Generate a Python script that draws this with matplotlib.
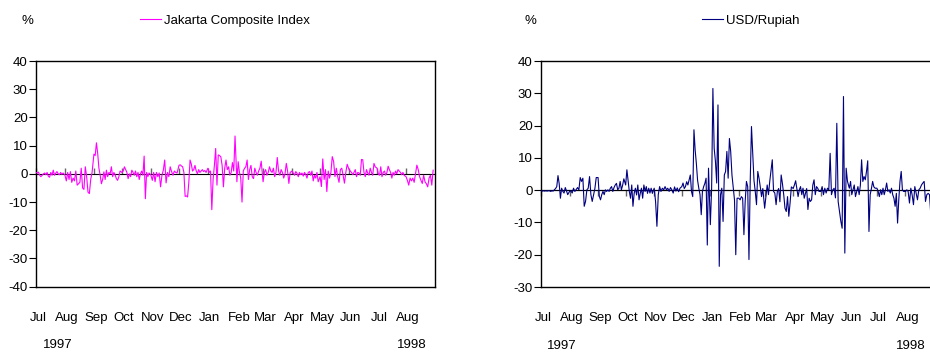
import numpy as np
import pandas as pd
import matplotlib
matplotlib.use("Agg")
import matplotlib.pyplot as plt
import matplotlib.dates as mdates

plt.rcParams["font.family"] = ["Liberation Sans", "DejaVu Sans"]
plt.rcParams["axes.unicode_minus"] = False

# --- months covered (daily % changes, Jul 1997 - Aug 1998) ---
months = ["1997-07", "1997-08", "1997-09", "1997-10", "1997-11", "1997-12", "1998-01",
          "1998-02", "1998-03", "1998-04", "1998-05", "1998-06", "1998-07", "1998-08"]
month_labels = ["Jul", "Aug", "Sep", "Oct", "Nov", "Dec", "Jan",
                "Feb", "Mar", "Apr", "May", "Jun", "Jul", "Aug"]
year_labels = ["1997", "1998"]
year_dates = ["1997-07-24", "1998-08-07"]

# --- Jakarta Composite Index, daily % change ---
jci_jul97 = [0.5, 0.3, 0.6, -0.5, -1.0, -0.5, 0.0, 0.3, -0.3, 0.5, -0.8, -1.2,
             0.5, -0.5, 1.3, -0.5, 0.2, 0.8, 0.0, -0.3, 0.5, -0.2, 0.3]
jci_aug97 = [-0.5, -2.5, 0.5, -2.0, 0.8, -3.0, -1.5, -2.5, 1.0, -4.0, -3.5,
             -3.0, 2.0, -5.0, -5.5, 2.5, -1.0, -6.5, -7.0, -2.0, 0.5]
jci_sep97 = [7.0, 6.5, 11.0, 7.3, 2.0, -0.5, -3.5, -2.0, 0.7, -2.0, 1.3,
             -1.0, 0.5, 0.0, 2.5, -1.0, 0.5, -0.3, -1.7, -2.3, -1.0, 1.0]
jci_oct97 = [0.5, 1.0, 2.5, 1.5, 0.5, -1.7, 0.0, -1.0, 1.3, 0.5, -0.5, 1.0,
             -1.0, 0.5, -2.0, 0.0, 1.0, -0.5, 6.3, -8.8, 0.5, -1.0, 0.3]
jci_nov97 = [-0.5, -2.3, 0.5, -2.8, 0.5, -1.0, 0.3, -4.6, -0.5, 1.3,
             4.9, -3.2, 0.5, -1.0, 2.5, 0.8, -0.5, 1.0, 0.5, 0.3]
jci_dec97 = [3.0, 3.2, 2.8, 2.5, 0.5, -8.0, -7.8, -8.2, -3.0, 4.9, 3.5, 1.0,
             1.5, 3.0, 1.0, 0.0, 1.5, 0.5, 1.0, 1.5, 0.8, 1.2, 0.5]
jci_jan98 = [2.0, 0.5, 1.0, -12.7, -2.0, 3.0, 9.0, -4.0, 6.7, 6.5, 6.0,
             3.0, -4.6, 2.0, 4.9, 1.5, 2.5, -0.5, 0.5, 4.0, 1.0, 13.4]
jci_feb98 = [-2.8, 4.3, 0.5, -1.5, -10.0, 1.0, 2.0, 2.5, 4.9, -2.0,
             1.5, 3.0, -1.0, -1.7, 2.0, 0.5, -0.5, 1.0, 2.0, 4.5]
jci_mar98 = [-2.8, 0.5, 1.5, -0.5, 0.5, 2.5, 1.0, 0.5, 2.0, -1.0, 0.5,
             5.8, 1.0, -0.5, 1.5, 0.5, -1.5, 0.0, 3.7, 1.0, -3.4, 0.5]
jci_apr98 = [1.0, 0.3, -0.5, 0.8, 0.2, -1.0, 0.5, -0.3, 0.3, -0.8, 0.5,
             -0.2, -1.5, 0.5, 0.8, -0.5, 1.0, -2.5, -0.5, -1.5, 0.5, -2.8]
jci_may98 = [-1.0, -4.5, 5.3, -2.0, 1.5, -6.3, 1.0, -1.5, 0.5, 6.1, 4.4,
             -1.0, 2.0, -1.0, -3.0, 1.5, 2.0, -0.5, -3.3, 0.5, 3.4]
jci_jun98 = [1.5, 1.0, 0.5, -0.3, 0.5, 1.5, -1.0, 0.5, 0.3, -0.5, 5.1,
             5.0, 0.5, -1.0, 1.5, 0.3, -0.5, 2.0, 0.5, -0.5, 3.7, 2.5]
jci_jul98 = [2.0, 0.0, -0.5, 2.5, -1.0, 0.5, 1.0, -0.5, 0.5, 2.7, 1.5, 0.5,
             -1.5, 0.5, -0.5, 1.0, 0.0, 1.5, 1.0, 0.5, -0.3, 0.5, -0.5]
jci_aug98 = [-1.0, -2.3, -4.0, -1.5, -2.5, -1.5, -3.0, 0.0, 3.1, 1.5, -1.0,
             -2.3, -3.4, -0.5, -2.8, -3.5, -4.6, -1.5, -0.5, -4.0, 1.3]

# --- USD/Rupiah, daily % change ---
rp_jul97 = [-0.3, -0.3, -0.2, -0.3, -0.2, -0.3, -0.2, -0.2, -0.4, -0.2, -0.3, 0.1,
            0.5, 1.1, 4.5, 2.0, -2.5, 0.6, -0.4, -0.9, 0.8, -0.2, -1.4]
rp_aug97 = [-0.4, -0.2, -0.9, 0.6, -0.4, 0.2, 0.8, 0.1, 3.9, 2.7, 3.7,
            -5.0, -3.5, 0.1, 0.6, 4.2, -1.4, -3.5, -1.5, 0.5, 3.9]
rp_sep97 = [3.9, -1.9, -3.0, -1.4, -0.4, -1.4, 0.1, -0.4, 0.1, -0.4, 0.6,
            1.1, -0.4, 0.8, 1.6, 2.1, 0.1, 0.6, 2.7, 0.1, 1.5, 3.5]
rp_oct97 = [1.6, 6.3, 3.0, -0.4, -2.5, 1.6, -5.0, -1.0, 0.6, -1.5, 1.6, -3.0,
            -1.0, 0.6, -2.5, 1.6, -0.4, 1.1, -1.0, 0.6, -0.9, 0.6, -1.0]
rp_nov97 = [0.6, -3.5, -11.2, -1.4, 1.1, -0.4, 0.6, 0.1, 1.1, 0.1,
            0.6, -0.4, 0.8, 0.1, -0.9, 1.0, -0.3, 0.7, -0.5, 0.6]
rp_dec97 = [1.1, 2.2, 0.5, 1.1, 2.6, 1.6, 3.1, 4.7, -0.5, -2.0, 18.7, 12.4,
            8.2, 3.0, 0.6, -1.4, -7.6, -0.4, 1.1, 2.1, 3.7, -17.0, 6.8]
rp_jan98 = [-10.7, 0.6, 31.5, 13.0, 8.9, 2.2, 26.4, -23.6, -1.4, 0.6, -9.7,
            4.7, 5.8, 12.0, 3.7, 16.0, 12.0, 4.7, 1.0, -3.0, -20.0, -2.5]
rp_feb98 = [-2.5, -3.0, -2.0, -2.5, -13.8, -3.5, 2.7, 1.1, -21.5, 2.7,
            19.7, 11.0, 3.0, -0.4, -4.5, 5.8, 3.7, 1.0, -2.0, 0.5]
rp_mar98 = [-5.6, -2.0, 1.6, -1.4, 2.7, 6.0, 9.4, -0.4, -0.9, -4.5, -0.4,
            0.5, -3.6, 4.7, 2.0, -1.4, -5.6, -6.6, -2.0, -8.1, -4.0, 1.0]
rp_apr98 = [0.5, 1.6, 2.9, 0.5, -2.0, 0.1, 1.1, -1.4, 0.6, -2.5, -1.0,
            0.5, -6.0, -2.5, -3.5, -3.0, 1.6, 3.2, -1.4, 1.1, 0.6, -0.4]
rp_may98 = [-0.4, 1.1, -1.4, 0.6, -0.9, 0.6, 0.1, 11.4, -1.4, 0.1, 0.6,
            -2.4, 20.7, -3.5, -6.6, -9.6, -11.8, 29.0, -19.5, 6.8, 2.7]
rp_jun98 = [0.6, 2.7, -1.4, 0.1, 1.6, -2.0, -0.4, 1.1, -1.4, 1.5, 9.4,
            2.7, 4.2, 3.2, 5.8, 9.1, -12.8, -1.4, 0.5, 2.7, 1.0, 0.6]
rp_jul98 = [0.6, -0.4, -2.0, 0.1, -1.4, 0.6, -1.4, 0.1, 2.2, -0.4, 0.1, -0.9,
            0.6, -1.4, -2.5, -5.0, -1.0, -10.2, -3.0, 2.7, 5.8, 0.1, -0.4]
rp_aug98 = [-0.4, 0.1, -0.4, -4.0, 0.6, -1.5, -4.5, 1.1, -0.9, -3.0, 0.1,
            0.6, 1.6, 2.2, 2.7, -3.5, -1.4, -1.0, -1.4, -7.6, -7.2]

jci_months = [jci_jul97, jci_aug97, jci_sep97, jci_oct97, jci_nov97, jci_dec97, jci_jan98,
              jci_feb98, jci_mar98, jci_apr98, jci_may98, jci_jun98, jci_jul98, jci_aug98]
rp_months = [rp_jul97, rp_aug97, rp_sep97, rp_oct97, rp_nov97, rp_dec97, rp_jan98,
             rp_feb98, rp_mar98, rp_apr98, rp_may98, rp_jun98, rp_jul98, rp_aug98]


def to_series(month_lists):
    """Spread each month's daily observations over that month."""
    dates, vals = [], []
    for m, v in zip(months, month_lists):
        start = pd.Timestamp(m + "-01")
        end = start + pd.offsets.MonthEnd(0) - pd.Timedelta(days=1)
        dates.extend(pd.date_range(start, end, periods=len(v)))
        vals.extend(v)
    return pd.Series(vals, index=pd.DatetimeIndex(dates))


jci = to_series(jci_months)
rupiah = to_series(rp_months)

month_starts = [pd.Timestamp(m + "-01") for m in months]
x_start = pd.Timestamp("1997-07-01")
x_end = pd.Timestamp("1998-09-01")

W, H = 930, 354
fig = plt.figure(figsize=(W / 100, H / 100), dpi=100)

FS = 9.5


def draw_panel(rect, series, color, label, ylim, yticks, zero_color, zero_lw):
    ax = fig.add_axes(rect)
    ax.set_xlim(x_start, x_end)
    ax.set_ylim(*ylim)
    ax.set_yticks(yticks)
    ax.set_yticklabels([str(t) for t in yticks], fontsize=FS)
    ax.tick_params(axis="y", direction="out", length=5, width=0.8, pad=1)
    for s in ax.spines.values():
        s.set_linewidth(1.0)
        s.set_color("black")

    # month labels under the box, no tick marks there
    ax.set_xticks([d + pd.Timedelta(days=2) for d in month_starts])
    ax.set_xticklabels(month_labels, fontsize=FS)
    ax.tick_params(axis="x", length=0, pad=18)
    for yl, yd in zip(year_labels, year_dates):
        ax.text(pd.Timestamp(yd), -0.26, yl, transform=ax.get_xaxis_transform(),
                ha="center", va="center", fontsize=FS)

    # zero line carrying the month ticks
    zero_frac = (0 - ylim[0]) / (ylim[1] - ylim[0])
    sec = ax.secondary_xaxis(zero_frac)
    sec.set_xticks(month_starts)
    sec.tick_params(axis="x", direction="out", length=4, width=1.0,
                    color="#666666", labelbottom=False, labeltop=False)
    sec.spines["bottom"].set_color(zero_color)
    sec.spines["bottom"].set_linewidth(zero_lw)

    ax.plot(series.index, series.values, color=color, lw=0.8, label=label, zorder=3)
    return ax


ax1 = draw_panel([36 / W, 1 - 286.7 / H, 399 / W, 225.7 / H], jci, "#FF00FF",
                 "Jakarta Composite Index", (-40, 40), list(range(-40, 41, 10)),
                 "#555555", 1.2)
ax2 = draw_panel([541 / W, 1 - 287 / H, 393 / W, 226 / H], rupiah, "#000080",
                 "USD/Rupiah", (-30, 40), list(range(-30, 41, 10)),
                 "black", 0.9)
ax2.spines["right"].set_visible(False)

for ax, cx in [(ax1, 225 / W), (ax2, 751 / W)]:
    ax.legend(loc="center", bbox_to_anchor=(cx, 1 - 21 / H), bbox_transform=fig.transFigure,
              frameon=False, fontsize=FS, handlelength=1.6, handletextpad=0.25,
              borderpad=0, borderaxespad=0)

fig.text(27 / W, 1 - 21 / H, "%", ha="center", va="center", fontsize=FS)
fig.text(530 / W, 1 - 21 / H, "%", ha="center", va="center", fontsize=FS)

fig.savefig("out.png", dpi=100)
